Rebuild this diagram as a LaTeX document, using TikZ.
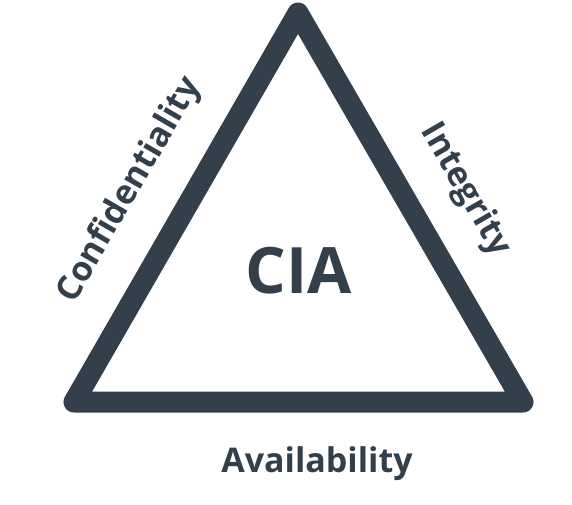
\documentclass[tikz,border=0pt]{standalone}
\usepackage{fontspec}
\setmainfont{Open Sans}
\definecolor{slate}{RGB}{51,63,75}
\begin{document}
\begin{tikzpicture}[x=1pt,y=-1pt,
  lbl/.style={text=slate,font=\bfseries\fontsize{34}{38}\selectfont,inner sep=0pt},
  edge/.style={draw=slate,line width=21pt,line join=round}]
\useasboundingbox (0,0) rectangle (572,504);
\coordinate (top) at (298,13);
\coordinate (bl) at (74,402);
\coordinate (br) at (523,402);
\draw[edge] (top) -- (br) -- (bl) -- cycle;
\node[lbl,font=\bfseries\fontsize{64}{68}\selectfont] (cia) at (299,271) {CIA};
\node[lbl,rotate=60] (conf) at (130,190) {Confidentiality};
\node[lbl,rotate=-60] (integ) at (465,190) {Integrity};
\node[lbl] (avail) at (317,464) {Availability};
\end{tikzpicture}
\end{document}
